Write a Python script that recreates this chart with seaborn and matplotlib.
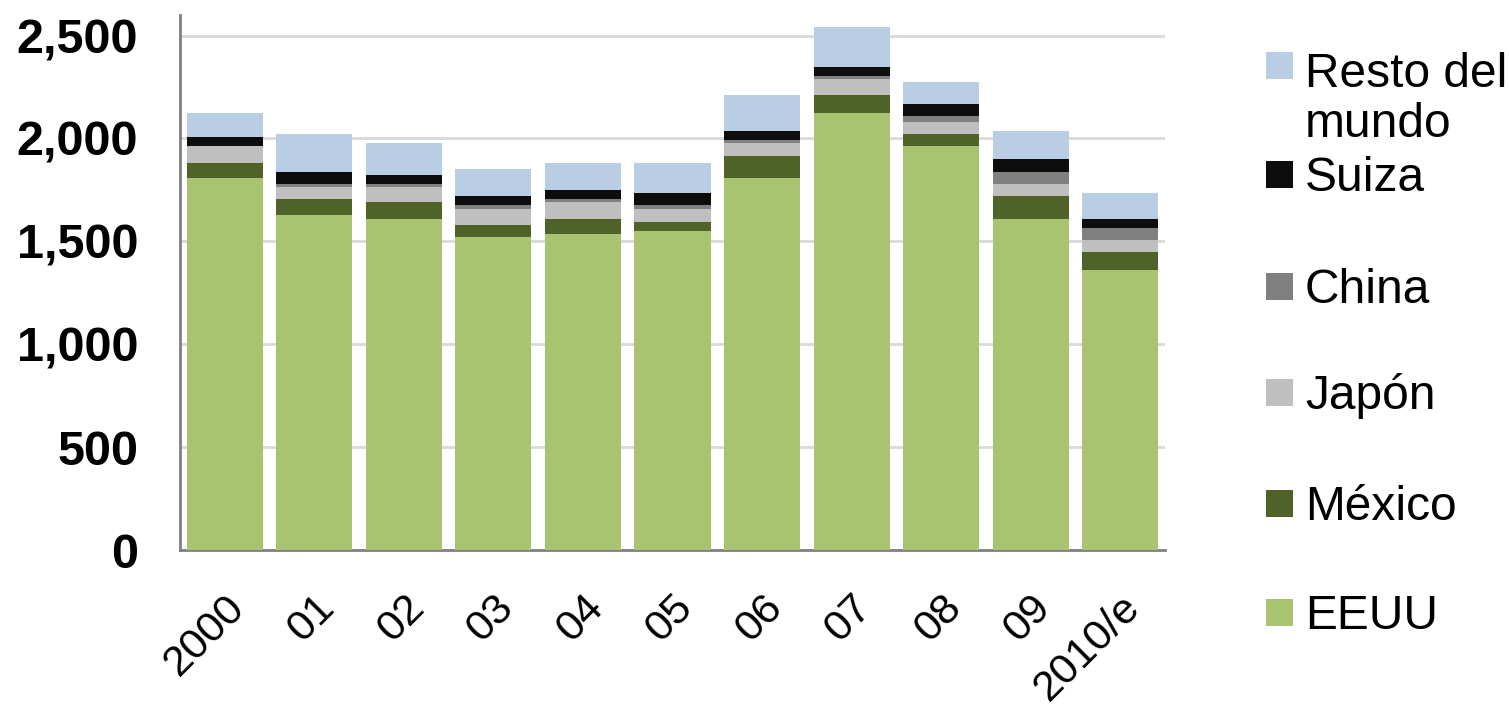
import numpy as np
import pandas as pd
import seaborn as sns
import matplotlib.pyplot as plt
import matplotlib.transforms as mtransforms
from matplotlib.patches import Rectangle

years = ["2000", "01", "02", "03", "04", "05", "06", "07", "08", "09", "2010/e"]
eeuu = [1808, 1626, 1611, 1521, 1536, 1551, 1808, 2123, 1962, 1611, 1360]
mexico = [75, 79, 79, 60, 75, 45, 106, 87, 59, 109, 87]
japon = [79, 59, 74, 74, 79, 59, 63, 78, 58, 59, 60]
china = [0, 15, 15, 20, 15, 20, 15, 14, 29, 59, 59]
suiza = [44, 59, 44, 45, 44, 59, 43, 44, 59, 60, 45]
resto = [119, 183, 154, 133, 134, 149, 175, 194, 106, 138, 123]

series = ["EEUU", "México", "Japón", "China", "Suiza", "Resto del mundo"]
colors = ["#A9C471", "#4F6228", "#BFBFBF", "#808080", "#0D0D0D", "#B9CDE5"]
legend_labels = ["EEUU", "México", "Japón", "China", "Suiza", "Resto del\nmundo"]

df = pd.DataFrame({"year": years, "EEUU": eeuu, "México": mexico, "Japón": japon,
                   "China": china, "Suiza": suiza, "Resto del mundo": resto})
cum = df[series].cumsum(axis=1)
cum["year"] = years

sns.set_style("white")
plt.rcParams["font.family"] = ["Liberation Sans", "DejaVu Sans"]
plt.rcParams["text.color"] = "black"
plt.rcParams["xtick.color"] = "black"
plt.rcParams["ytick.color"] = "black"

W, H = 1509, 710
fig = plt.figure(figsize=(W / 100, H / 100), dpi=100)
ax = fig.add_axes([180 / W, 160 / H, 985 / W, 535 / H])

# draw cumulative totals from the top series down so each overlaps the previous
for name, col in reversed(list(zip(series, colors))):
    sns.barplot(data=cum, x="year", y=name, color=col, width=0.85,
                saturation=1, linewidth=0, ax=ax, zorder=3)

ax.set_ylim(0, 2600)
ax.set_xlim(-0.5, len(years) - 0.5)
ax.set_yticks([0, 500, 1000, 1500, 2000, 2500])
ax.set_yticklabels(["0", "500", "1,000", "1,500", "2,000", "2,500"],
                   fontsize=35, fontweight="bold")
ax.yaxis.grid(True, color="#D9D9D9", linewidth=2, zorder=0)
ax.set_axisbelow(True)

ax.set_xticks(range(len(years)))
ax.set_xticklabels(years, rotation=45, ha="right", rotation_mode="anchor", fontsize=31)
shift = mtransforms.ScaledTranslation(-20 / 100, 0, fig.dpi_scale_trans)
for lab in ax.get_xticklabels():
    lab.set_transform(lab.get_transform() + shift)
ax.set_xticks(np.arange(-0.5, len(years)), minor=True)
ax.tick_params(axis="x", which="major", length=0, pad=27)
ax.tick_params(axis="x", which="minor", length=12, width=2, color="#808080", direction="out")
ax.tick_params(axis="y", length=12, width=2, color="#808080", direction="out", pad=18)
ax.set_xlabel("")
ax.set_ylabel("")

for s in ["top", "right"]:
    ax.spines[s].set_visible(False)
for s in ["left", "bottom"]:
    ax.spines[s].set_color("#808080")
    ax.spines[s].set_linewidth(2)

# legend on the right, top entry = last series
centers = [612, 503, 392, 286, 174, 65]
for lab, col, cy in zip(legend_labels, colors, centers):
    fig.add_artist(Rectangle((1266 / W, 1 - (cy + 13.5) / H), 27 / W, 27 / H,
                             facecolor=col, edgecolor="none", transform=fig.transFigure))
    # baseline alignment uses the last line of the label
    base = cy + 17 + 55 * lab.count("\n")
    fig.text(1305 / W, 1 - base / H, lab, fontsize=34.5, va="baseline",
             ha="left", linespacing=1.15)

fig.savefig("out.png", dpi=100)
